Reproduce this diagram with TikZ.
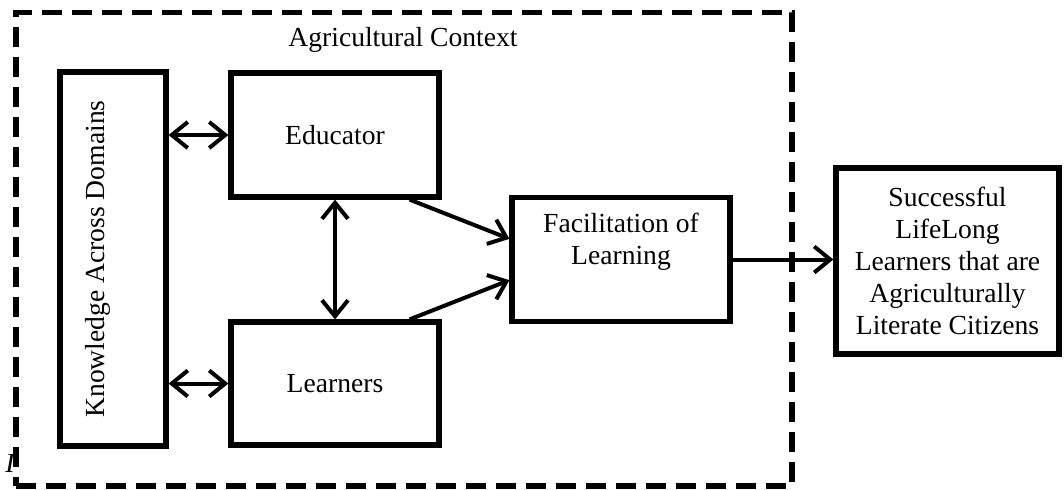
\documentclass[tikz,border=0pt]{standalone}
\usepackage{fontspec}
\setmainfont{Liberation Serif}
\usepackage{tikz}
\usetikzlibrary{positioning,arrows.meta,calc}

\begin{document}
\begin{tikzpicture}[x=0.5pt,y=-0.5pt,>={Straight Barb[length=8pt,width=13pt]}]
\tikzstyle{every node}+=[inner sep=0pt,font=\fontsize{13.8}{16}\selectfont]
\tikzstyle{box}=[draw=black,line width=2.6pt]
\tikzstyle{link}=[black,line width=2pt]
\useasboundingbox (0,0) rectangle (1064,489);
% stray mark left of the frame
\node (stray) at (10,463) {\itshape I};
% context frame
\node [box,dash pattern=on 10pt off 5pt,minimum width=388pt,minimum height=236.75pt] (ctx) at (404,249.25) {};
\node (ctxT) at (403,40) {Agricultural Context};
% boxes
\node [box,minimum width=53pt,minimum height=187pt] (know) at (113,259) {};
\node [rotate=90] (knowT) at ([xshift=-7.5pt]know.center) {Knowledge Across Domains};
\node [box,minimum width=104pt,minimum height=62pt] (edu) at (335,135) {Educator};
\node [box,minimum width=104pt,minimum height=61.5pt] (lrn) at (335,383.5) {Learners};
\node [box,minimum width=109pt,minimum height=62pt] (fac) at (621,259.5) {};
\node [align=center] (facT) at ([yshift=9pt]fac.center) {Facilitation of\\Learning};
\node [box,align=center,minimum width=111.5pt,minimum height=93pt] (suc) at (947.5,261) {Successful\\LifeLong\\Learners that are\\Agriculturally\\Literate Citizens};
% links
\draw [link,<->] (know.east |- edu) -- (edu.west);
\draw [link,<->] (know.east |- lrn) -- (lrn.west);
\draw [link,<->] (edu.south) -- (lrn.north);
\draw [link,->] ($(edu.south west)!0.85!(edu.south east)$) -- ($(fac.north west)!0.34!(fac.south west)$);
\draw [link,->] ($(lrn.north west)!0.85!(lrn.north east)$) -- ($(fac.north west)!0.66!(fac.south west)$);
\draw [link,->] (fac.east) -- (fac.east -| suc.west);
\end{tikzpicture}
\end{document}
